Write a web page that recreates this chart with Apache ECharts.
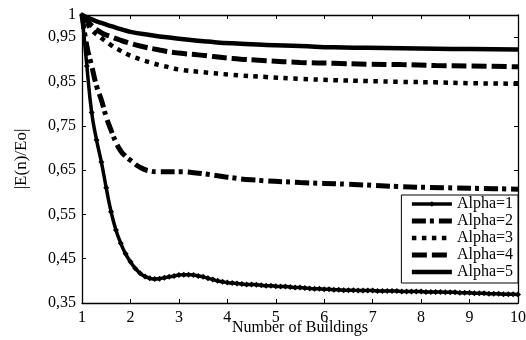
<!DOCTYPE html>
<html>
<head>
<meta charset="utf-8">
<script src="https://cdn.jsdelivr.net/npm/echarts@6/dist/echarts.min.js"></script>
<style>
html,body{margin:0;padding:0;background:#fff;}
#chart{width:526px;height:340px;}
</style>
</head>
<body>
<div id="chart"></div>
<script>
var seriesNames = ['Alpha=1', 'Alpha=2', 'Alpha=3', 'Alpha=4', 'Alpha=5'];
var xTicks = [1, 2, 3, 4, 5, 6, 7, 8, 9, 10];
var yTicks = [0.35, 0.45, 0.55, 0.65, 0.75, 0.85, 0.95, 1];

var alpha1X = [1.0,1.1,1.2,1.3,1.4,1.5,1.6,1.7,1.8,1.9,2.0,2.1,2.2,2.3,2.4,2.5,2.6,2.7,2.8,2.9,3.0,3.1,3.2,3.3,3.4,3.5,3.6,3.7,3.8,3.9,4.0,4.1,4.2,4.3,4.4,4.5,4.6,4.7,4.8,4.9,5.0,5.1,5.2,5.3,5.4,5.5,5.6,5.7,5.8,5.9,6.0,6.1,6.2,6.3,6.4,6.5,6.6,6.7,6.8,6.9,7.0,7.1,7.2,7.3,7.4,7.5,7.6,7.7,7.8,7.9,8.0,8.1,8.2,8.3,8.4,8.5,8.6,8.7,8.8,8.9,9.0,9.1,9.2,9.3,9.4,9.5,9.6,9.7,9.8,9.9,10.0];
var alpha1Y = [1.000,0.885,0.780,0.718,0.668,0.610,0.556,0.515,0.485,0.461,0.443,0.428,0.417,0.410,0.406,0.404,0.405,0.407,0.409,0.411,0.413,0.414,0.414,0.413,0.411,0.409,0.406,0.403,0.400,0.398,0.396,0.395,0.394,0.393,0.392,0.392,0.391,0.390,0.389,0.389,0.388,0.387,0.387,0.386,0.385,0.385,0.384,0.383,0.382,0.382,0.381,0.381,0.380,0.380,0.379,0.379,0.379,0.378,0.378,0.378,0.378,0.377,0.377,0.377,0.377,0.377,0.376,0.376,0.376,0.376,0.376,0.375,0.375,0.375,0.375,0.374,0.374,0.374,0.373,0.373,0.373,0.372,0.372,0.372,0.371,0.371,0.371,0.370,0.370,0.370,0.369];

var alpha2X = [1.0,1.1,1.2,1.3,1.4,1.5,1.6,1.7,1.8,1.9,2.0,2.2,2.4,2.6,3.0,3.4,4.0,4.5,5.5,6.5,7.5,8.5,9.5,10.0];
var alpha2Y = [1.000,0.930,0.885,0.840,0.808,0.770,0.740,0.713,0.693,0.681,0.672,0.656,0.648,0.646,0.646,0.643,0.634,0.628,0.622,0.618,0.613,0.610,0.608,0.607];

var alpha3X = [1.0,1.1,1.2,1.4,1.6,1.8,2.0,2.2,2.4,2.6,2.8,3.0,3.5,4.1,4.8,5.5,6.2,6.9,7.6,8.3,9.0,10.0];
var alpha3Y = [1.000,0.982,0.966,0.948,0.932,0.919,0.908,0.900,0.893,0.887,0.882,0.877,0.871,0.865,0.860,0.856,0.853,0.851,0.849,0.848,0.846,0.845];

var alpha4X = [1.0,1.2,1.4,1.6,1.8,2.0,2.2,2.6,3.0,3.4,4.1,4.8,5.5,6.2,6.9,7.6,8.3,9.0,10.0];
var alpha4Y = [1.000,0.976,0.960,0.951,0.943,0.936,0.930,0.921,0.914,0.910,0.902,0.897,0.893,0.891,0.889,0.888,0.886,0.885,0.883];

var alpha5X = [1.0,1.2,1.4,1.6,1.8,2.0,2.4,2.8,3.2,3.6,4.1,4.8,5.5,6.2,6.9,7.6,8.3,9.0,10.0];
var alpha5Y = [1.000,0.990,0.982,0.975,0.968,0.962,0.955,0.949,0.944,0.940,0.936,0.9325,0.930,0.927,0.926,0.925,0.924,0.923,0.922];

function zip(xs, ys) { return xs.map(function (x, i) { return [x, ys[i]]; }); }

var FONT = 'Liberation Serif';
var chart = echarts.init(document.getElementById('chart'), null, {renderer: 'canvas'});

function fmtY(v) {
  var s = (Math.abs(v - 1) < 1e-9) ? '1' : v.toFixed(2);
  return s.replace('.', ',');
}

var axisLineStyle = {color: '#000', width: 1.3};

var lineStyles = [
  {color: '#000', width: 3.5, type: 'solid'},
  {color: '#000', width: 5, type: [14, 4, 4, 5]},
  {color: '#000', width: 4.5, type: [4.5, 5.5]},
  {color: '#000', width: 5, type: [15, 5]},
  {color: '#000', width: 4.5, type: 'solid'}
];

var legendData = seriesNames.map(function (n, i) {
  var item = {name: n, lineStyle: lineStyles[i]};
  if (i > 0) item.itemStyle = {opacity: 0};
  return item;
});

chart.setOption({
  animation: false,
  backgroundColor: '#fff',
  grid: {left: 82, right: 8, top: 15, bottom: 37, containLabel: false, outerBoundsMode: 'none'},
  legend: {
    orient: 'vertical',
    right: 8,
    top: 195,
    data: legendData,
    itemWidth: 40,
    itemHeight: 7,
    itemGap: 1,
    padding: [1, 5, 3, 8],
    borderColor: '#000',
    borderWidth: 1,
    borderRadius: 0,
    backgroundColor: '#fff',
    textStyle: {fontFamily: FONT, fontSize: 16, color: '#000', lineHeight: 16},
    z: 10
  },
  xAxis: [{
    type: 'value', min: 1, max: 10, interval: 1,
    name: 'Number of Buildings', nameLocation: 'middle', nameGap: 17, nameMoveOverlap: false,
    nameTextStyle: {fontFamily: FONT, fontSize: 16, color: '#000'},
    axisLine: {lineStyle: axisLineStyle},
    axisTick: {inside: true, length: 4, lineStyle: {color: '#000'}},
    axisLabel: {fontFamily: FONT, fontSize: 16, color: '#000', margin: 7,
      formatter: function (v) { return String(v); }},
    splitLine: {show: false}
  }, {
    type: 'value', min: 1, max: 10, interval: 1, position: 'top',
    axisLine: {show: true, lineStyle: axisLineStyle},
    axisTick: {show: true, inside: true, length: 4, lineStyle: {color: '#000'}},
    axisLabel: {show: false},
    splitLine: {show: false}
  }],
  yAxis: [{
    type: 'value', min: 0.35, max: 1, interval: 0.1,
    name: '|E(n)/Eo|', nameLocation: 'middle', nameGap: 52, nameRotate: 90, nameMoveOverlap: false,
    nameTextStyle: {fontFamily: FONT, fontSize: 17, color: '#000'},
    axisLine: {show: true, lineStyle: axisLineStyle},
    axisTick: {show: true, inside: true, length: 4, lineStyle: {color: '#000'}},
    axisLabel: {fontFamily: FONT, fontSize: 16, color: '#000', margin: 6,
      showMaxLabel: true, formatter: fmtY},
    splitLine: {show: false}
  }, {
    type: 'value', min: 0.35, max: 1, interval: 0.1, position: 'right',
    axisLine: {show: true, lineStyle: axisLineStyle},
    axisTick: {show: true, inside: true, length: 4, lineStyle: {color: '#000'}},
    axisLabel: {show: false},
    splitLine: {show: false}
  }],
  series: [{
    name: seriesNames[0], type: 'line', data: zip(alpha1X, alpha1Y),
    symbol: 'diamond', symbolSize: 6, showAllSymbol: true, smooth: true,
    itemStyle: {color: '#000'},
    lineStyle: lineStyles[0]
  }, {
    name: seriesNames[1], type: 'line', data: zip(alpha2X, alpha2Y),
    symbol: 'none', smooth: true,
    itemStyle: {color: '#000'},
    lineStyle: lineStyles[1]
  }, {
    name: seriesNames[2], type: 'line', data: zip(alpha3X, alpha3Y),
    symbol: 'none', smooth: true,
    itemStyle: {color: '#000'},
    lineStyle: lineStyles[2]
  }, {
    name: seriesNames[3], type: 'line', data: zip(alpha4X, alpha4Y),
    symbol: 'none', smooth: true,
    itemStyle: {color: '#000'},
    lineStyle: lineStyles[3]
  }, {
    name: seriesNames[4], type: 'line', data: zip(alpha5X, alpha5Y),
    symbol: 'none', smooth: true,
    itemStyle: {color: '#000'},
    lineStyle: lineStyles[4]
  }]
});
</script>
</body>
</html>
